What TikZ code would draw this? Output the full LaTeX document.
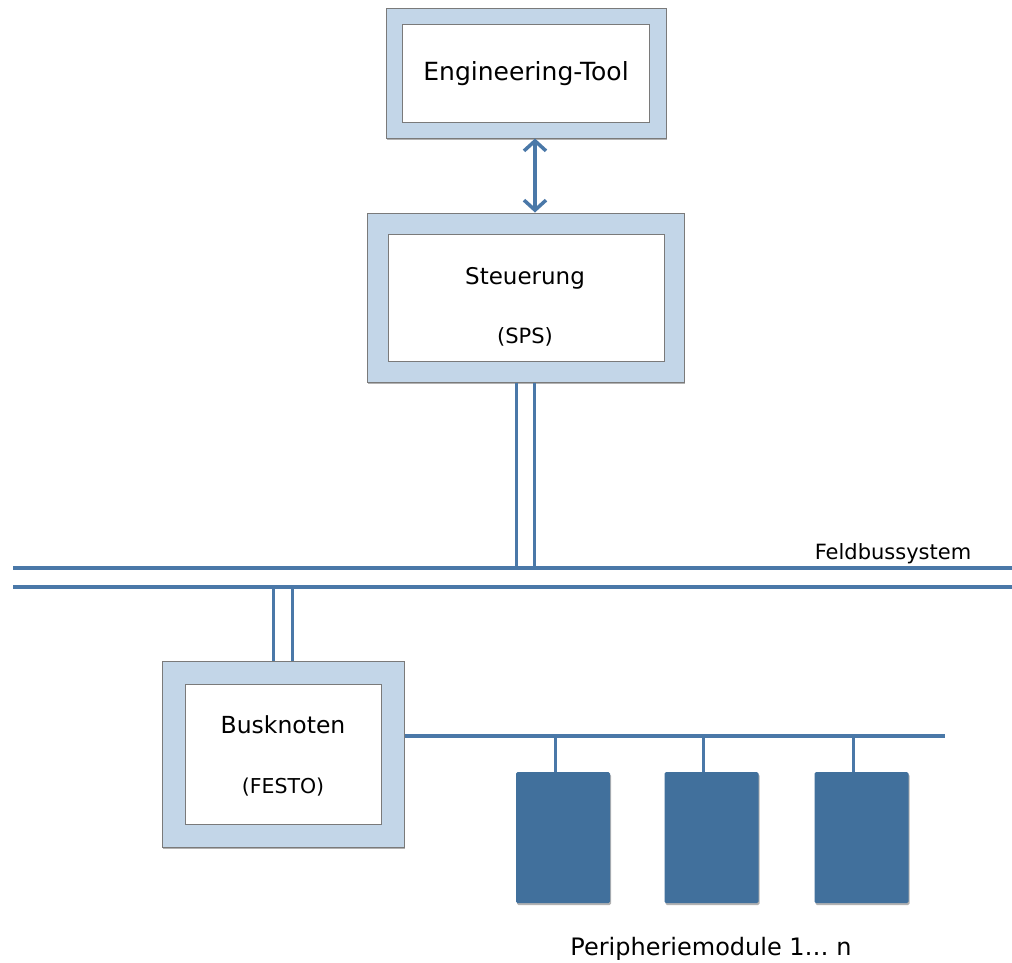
\documentclass[tikz,border=0pt]{standalone}
\usepackage{fontspec}
\setmainfont{DejaVu Sans}
\usetikzlibrary{arrows.meta,shadows}
\definecolor{frameblue}{HTML}{C3D6E8}
\definecolor{framegray}{HTML}{7A7A7A}
\definecolor{busblue}{HTML}{4A78A8}
\definecolor{moduleblue}{HTML}{41709C}

\begin{document}
\begin{tikzpicture}[x=1pt,y=-1pt,
  softshadow/.style={drop shadow={shadow xshift=1pt,shadow yshift=-2pt,fill=black,opacity=.3}},
  outerbox/.style={draw=framegray,line width=1pt,fill=frameblue,inner sep=0pt,softshadow},
  innerbox/.style={draw=framegray,line width=1pt,fill=white,inner sep=0pt},
  module/.style={fill=moduleblue,rounded corners=1.5pt,inner sep=0pt,
    minimum width=94pt,minimum height=131pt,softshadow},
  busline/.style={draw=busblue,line width=3.5pt},
  stub/.style={draw=busblue,line width=3pt},
  lbl/.style={inner sep=0pt,anchor=base,text=black},
  biarrow/.style={draw=busblue,line width=3.5pt,
    {Straight Barb[length=10pt,width=22pt]}-{Straight Barb[length=10pt,width=22pt]}}]

\path[use as bounding box,fill=white] (0,0) rectangle (1012,962);

% Engineering tool
\node[outerbox,minimum width=280pt,minimum height=130pt] (etO) at (526,73) {};
\node[innerbox,minimum width=247pt,minimum height=98pt] (etI) at (525.5,73) {};
\node[lbl,font=\fontsize{25}{30}\selectfont] (etT) at (526,80) {Engineering-Tool};

% Controller
\node[outerbox,minimum width=317pt,minimum height=169pt] (stO) at (525.5,297.5) {};
\node[innerbox,minimum width=276pt,minimum height=127pt] (stI) at (526,297.5) {};
\node[lbl,font=\fontsize{23}{28}\selectfont] (stT) at (525,284) {Steuerung};
\node[lbl,font=\fontsize{21}{26}\selectfont] (stS) at (525,343) {(SPS)};

% Bus node
\node[outerbox,minimum width=242pt,minimum height=186pt] (bkO) at (283,754) {};
\node[innerbox,minimum width=196pt,minimum height=140pt] (bkI) at (283,754) {};
\node[lbl,font=\fontsize{23.5}{28}\selectfont] (bkT) at (283,733) {Busknoten};
\node[lbl,font=\fontsize{20.5}{25}\selectfont] (bkS) at (283,793) {(FESTO)};

% Engineering tool <-> controller
\draw[biarrow] ([xshift=9pt]etO.south) -- ([xshift=9pt]etO.south |- stO.north);

% Field bus
\coordinate (busTL) at (13,568);
\coordinate (busTR) at (1012,568);
\coordinate (busBL) at (13,587);
\coordinate (busBR) at (1012,587);
\draw[busline] (busTL) -- (busTR);
\draw[busline] (busBL) -- (busBR);
\node[lbl,font=\fontsize{21}{26}\selectfont] (fbT) at (893,559) {Feldbussystem};

% Double drop lines to the bus
\draw[busline] ([xshift=-9pt]stO.south) -- ([xshift=-9pt]stO.south |- busTL);
\draw[busline] ([xshift=9pt]stO.south) -- ([xshift=9pt]stO.south |- busTL);
\draw[busline] ([xshift=-9.5pt]bkO.north) -- ([xshift=-9.5pt]bkO.north |- busBL);
\draw[busline] ([xshift=9.5pt]bkO.north) -- ([xshift=9.5pt]bkO.north |- busBL);

% Local bus with I/O modules
\coordinate (lbE) at (945,736);
\draw[busline] (bkO.east |- lbE) -- (lbE);
\node[module] (m1) at (563,837.5) {};
\node[module] (m2) at (711.5,837.5) {};
\node[module] (m3) at (861.5,837.5) {};
\draw[stub] ([xshift=-8pt]m1.north) -- ([xshift=-8pt]m1.north |- lbE);
\draw[stub] ([xshift=-8pt]m2.north) -- ([xshift=-8pt]m2.north |- lbE);
\draw[stub] ([xshift=-8pt]m3.north) -- ([xshift=-8pt]m3.north |- lbE);
\node[lbl,font=\fontsize{24}{29}\selectfont] (pmT) at (711,955) {Peripheriemodule 1… n};

\end{tikzpicture}
\end{document}
